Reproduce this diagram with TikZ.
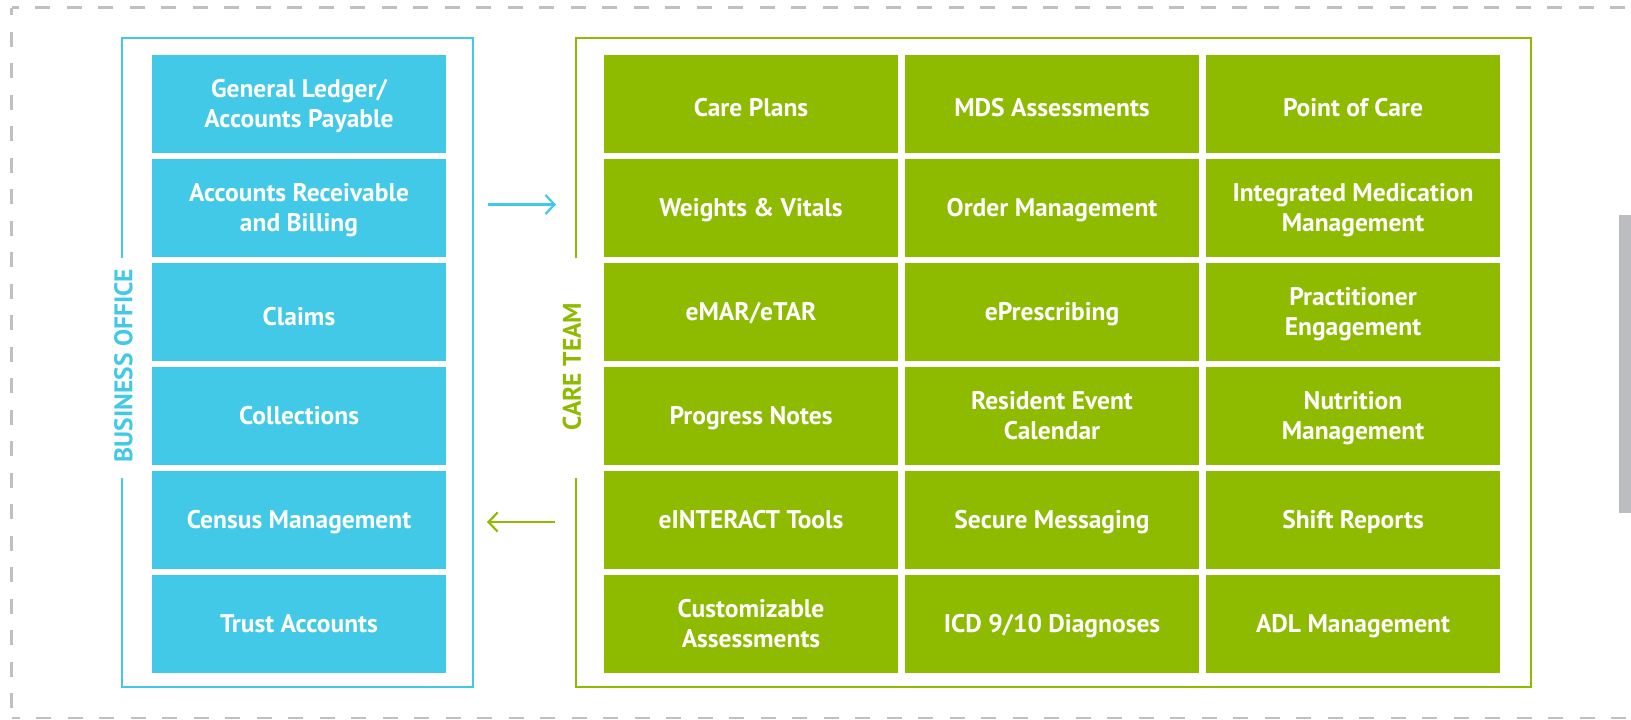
\documentclass[tikz,border=0pt]{standalone}
\usepackage{fontspec}
\setmainfont{PT Sans}
\usetikzlibrary{arrows.meta}
\definecolor{bo}{RGB}{66,201,232}
\definecolor{ct}{RGB}{142,186,0}
\definecolor{dg}{RGB}{192,192,194}
\definecolor{sidebar}{RGB}{188,189,192}
\newcommand{\tstrut}{\rule[-0.23em]{0pt}{1.14em}}
\begin{document}
\begin{tikzpicture}[x=1pt,y=-1pt,
  cell/.style={minimum width=294pt, minimum height=98pt, inner sep=0pt, text=white, align=center, font=\fontsize{25.5}{29}\selectfont\bfseries},
  bcell/.style={cell, fill=bo},
  gcell/.style={cell, fill=ct},
  grpframe/.style={line width=2.3pt},
  outerdash/.style={dg, line width=2.6pt, dash pattern=on 15pt off 16.5pt},
  flowarrow/.style={line width=2.2pt, -{Straight Barb[length=9pt,width=19pt]}},
  grplabel/.style={font=\fontsize{25.5}{30}\selectfont\bfseries, rotate=90, inner sep=0pt}]
\useasboundingbox (0,0) rectangle (1631,720);
\begin{scope}
\clip (0,0) rectangle (1631,720);
\draw[outerdash, dash phase=8pt] (11.5,7.5) -- (1700,7.5);
\draw[outerdash, dash phase=7.5pt] (11.5,7.5) -- (11.5,718);
\draw[outerdash, dash phase=7pt] (11.5,718) -- (1700,718);
\fill[sidebar] (1619,215) rectangle (1640,513);
\end{scope}
% frames
\draw[bo, grpframe] (122,258) -- (122,38) -- (473,38) -- (473,687) -- (122,687) -- (122,478);
\draw[ct, grpframe] (575.7,258) -- (575.7,38) -- (1531,38) -- (1531,687) -- (575.7,687) -- (575.7,478);
\node[grplabel, text=bo] (bolabel) at (123.5,365.5) {BUSINESS OFFICE};
\node[grplabel, text=ct] (ctlabel) at (572,366.5) {CARE TEAM};
% business office
\node[bcell] (b1) at (299,104) {\tstrut General Ledger/\\\tstrut Accounts Payable};
\node[bcell] (b2) at (299,208) {\tstrut Accounts Receivable\\\tstrut and Billing};
\node[bcell, text height=32.2pt] (b3) at (299,312) {\tstrut Claims};
\node[bcell] (b4) at (299,416) {\tstrut Collections};
\node[bcell] (b5) at (299,520) {\tstrut Census Management};
\node[bcell] (b6) at (299,624) {\tstrut Trust Accounts};
% care team
\node[gcell, text height=30.2pt] (g11) at (751,104) {\tstrut Care Plans};
\node[gcell, text height=30.2pt] (g12) at (1052,104) {\tstrut MDS Assessments};
\node[gcell, text height=30.2pt] (g13) at (1353,104) {\tstrut Point of Care};
\node[gcell] (g21) at (751,208) {\tstrut Weights \& Vitals};
\node[gcell] (g22) at (1052,208) {\tstrut Order Management};
\node[gcell] (g23) at (1353,208) {\tstrut Integrated Medication\\\tstrut Management};
\node[gcell] (g31) at (751,312) {\tstrut eMAR/eTAR};
\node[gcell] (g32) at (1052,312) {\tstrut ePrescribing};
\node[gcell] (g33) at (1353,312) {\tstrut Practitioner\\\tstrut Engagement};
\node[gcell] (g41) at (751,416) {\tstrut Progress Notes};
\node[gcell] (g42) at (1052,416) {\tstrut Resident Event\\\tstrut Calendar};
\node[gcell] (g43) at (1353,416) {\tstrut Nutrition\\\tstrut Management};
\node[gcell] (g51) at (751,520) {\tstrut eINTERACT Tools};
\node[gcell] (g52) at (1052,520) {\tstrut Secure Messaging};
\node[gcell] (g53) at (1353,520) {\tstrut Shift Reports};
\node[gcell] (g61) at (751,624) {\tstrut Customizable\\\tstrut Assessments};
\node[gcell] (g62) at (1052,624) {\tstrut ICD 9/10 Diagnoses};
\node[gcell] (g63) at (1353,624) {\tstrut ADL Management};
% arrows
\coordinate (toS) at (488,204.5);
\coordinate (toE) at (556,204.5);
\coordinate (frS) at (555,522);
\coordinate (frE) at (487,522);
\draw[bo, flowarrow] (toS) -- (toE);
\draw[ct, flowarrow] (frS) -- (frE);
\end{tikzpicture}
\end{document}
